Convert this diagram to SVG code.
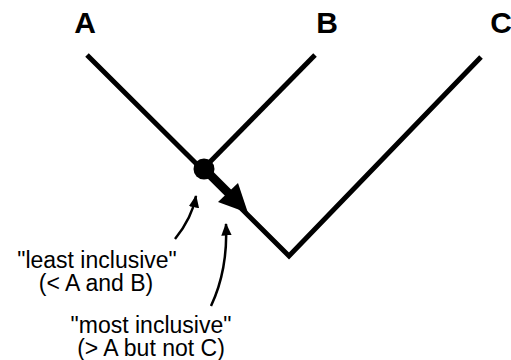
<svg xmlns="http://www.w3.org/2000/svg" width="511" height="360" viewBox="0 0 511 360">
<style>
.br{fill:none;stroke:#000;stroke-width:5;stroke-linecap:butt}
.lab{font-family:"Liberation Sans",Arial,sans-serif;font-weight:bold;font-size:30px;fill:#000;text-anchor:middle}
.note{font-family:"Liberation Sans",Arial,sans-serif;font-size:23px;fill:#000;text-anchor:middle}
.cv{fill:none;stroke:#000;stroke-width:2.5}
</style>
<defs>
<marker id="ah" viewBox="0 0 12 10" refX="11" refY="5" markerWidth="5" markerHeight="4.2" orient="auto" markerUnits="strokeWidth">
<path d="M0,0 L12,5 L0,10 Z" fill="#000"/>
</marker>
</defs>
<rect width="511" height="360" fill="#fff"/>
<g id="connectors">
<path class="br" d="M87,55 L289,256 L481,57"/>
<path class="br" d="M315,55 L204,168"/>
<path d="M204,168 L232,196" stroke="#000" stroke-width="8" fill="none"/>
<path d="M248,213 L218,202 L238,183 Z" fill="#000"/>
<path class="cv" d="M175,239 Q192,218 196,196" marker-end="url(#ah)"/>
<path class="cv" d="M211,306 Q228,270 226,224" marker-end="url(#ah)"/>
</g>
<g id="node-A"><text class="lab" x="85" y="33">A</text></g>
<g id="node-B"><text class="lab" x="327" y="33">B</text></g>
<g id="node-C"><text class="lab" x="501" y="33">C</text></g>
<g id="node-ancestor"><circle cx="204" cy="169" r="10.5" fill="#000"/></g>
<g id="label-least">
<text class="note" x="97" y="268">"least inclusive"</text>
<text class="note" x="96" y="291">(&lt; A and B)</text>
</g>
<g id="label-most">
<text class="note" x="151" y="333">"most inclusive"</text>
<text class="note" x="151" y="356">(&gt; A but not C)</text>
</g>
</svg>
